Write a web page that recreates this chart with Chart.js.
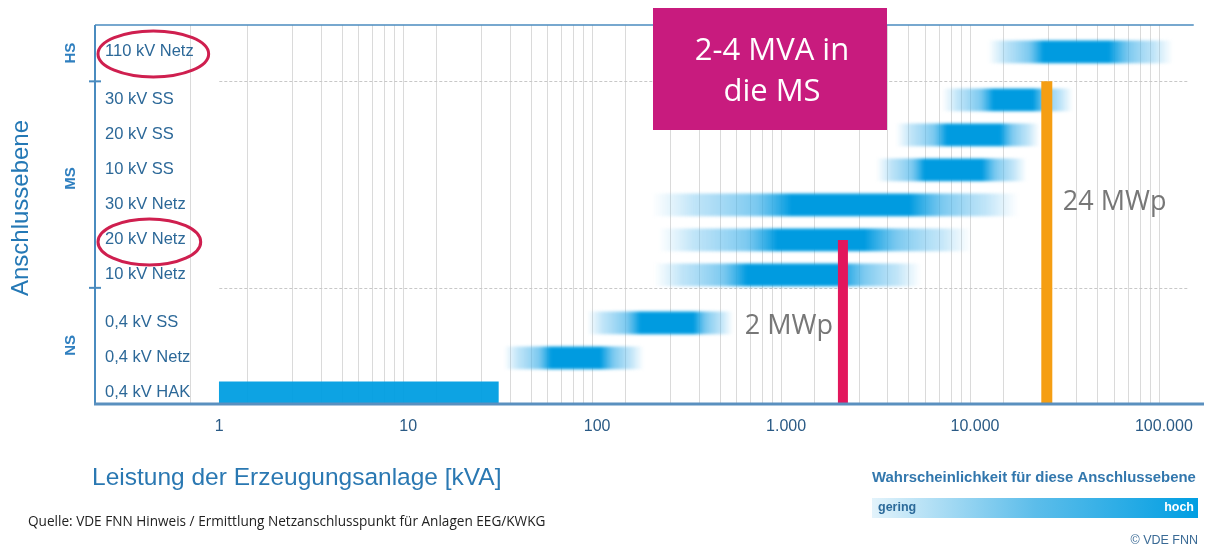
<!DOCTYPE html>
<html>
<head>
<meta charset="utf-8">
<script src="https://cdn.jsdelivr.net/npm/chart.js@4"></script>
<style>
  html, body { margin: 0; padding: 0; background: #fff; }
  #wrap { position: relative; width: 1207px; height: 551px; }
</style>
</head>
<body>
<div id="wrap"><canvas id="chart"></canvas></div>
<script>
// Anschlussebenen, von unten nach oben
const levels = ['0,4 kV HAK', '0,4 kV Netz', '0,4 kV SS', '10 kV Netz', '20 kV Netz', '30 kV Netz', '10 kV SS', '20 kV SS', '30 kV SS', '110 kV Netz'];
const levelGroups = ['NS', 'NS', 'NS', 'MS', 'MS', 'MS', 'MS', 'MS', 'MS', 'HS'];
const groupNames = ['NS', 'MS', 'HS'];

// Leistungsbereich je Ebene [kVA]
const rangeFrom = [1, 32, 88, 200, 210, 195, 3000, 3800, 6700, 11700];
const rangeTo = [30, 177, 526, 5200, 9600, 17000, 18800, 22000, 33000, 112000];
// Bereich mit hoher Wahrscheinlichkeit [kVA]
const peakFrom = [1, 57, 169, 620, 900, 1070, 5400, 7100, 12500, 23000];
const peakTo = [30, 104, 324, 1900, 2600, 4500, 10900, 13600, 20300, 51000];

// Grenzen NS/MS und MS/HS in Zeileneinheiten
const groupBounds = [3.0, 8.9];
const xTickValues = [1, 10, 100, 1000, 10000, 100000];

// eingezeichnete Anlagen
const markerLabels = ['2 MWp', '24 MWp'];
const markerValues = [2000, 24000];
const markerColors = ['#e2175c', '#f59e13'];
const markerLabelRows = ['0,4 kV SS', '30 kV Netz'];
const highlighted = ['110 kV Netz', '20 kV Netz'];

const xMin = 0.2225, xMax = 143900;
const yMin = -0.29, yMax = 10.51;

// Zeilenpositionen mit etwas Abstand zwischen den Gruppen
const groupGap = 0.37;
const rowPos = [];
let gap = 0;
levels.forEach((l, i) => {
  if (i > 0 && levelGroups[i] !== levelGroups[i - 1]) gap += groupGap;
  rowPos.push(i + gap);
});

const isSolid = i => peakFrom[i] === rangeFrom[i] && peakTo[i] === rangeTo[i];
const barData = solid => levels.map((l, i) => ({ x: [rangeFrom[i], rangeTo[i]], y: rowPos[i], i }))
  .filter(d => isSolid(d.i) === solid);

const markerTops = [rowPos[levels.indexOf('20 kV Netz')], groupBounds[1]];

const fmt = v => String(v).replace(/\B(?=(\d{3})+(?!\d))/g, '.');
const sans = "'Liberation Sans', Arial, sans-serif";
const soft = "'Open Sans', sans-serif";

function barFill(c) {
  const chart = c.chart;
  const xs = chart.scales.x;
  if (!chart.chartArea || !xs || !c.raw) return '#49b4e8';
  const i = c.raw.i;
  const a = xs.getPixelForValue(rangeFrom[i]), b = xs.getPixelForValue(rangeTo[i]);
  const p1 = xs.getPixelForValue(peakFrom[i]), p2 = xs.getPixelForValue(peakTo[i]);
  const w = b - a;
  const t = px => Math.min(1, Math.max(0, (px - a) / w));
  const g = chart.ctx.createLinearGradient(a, 0, b, 0);
  g.addColorStop(0, 'rgba(120,200,240,0)');
  g.addColorStop(t(a + (p1 - a) * 0.3), 'rgba(105,192,238,0.42)');
  g.addColorStop(t(a + (p1 - a) * 0.75), 'rgba(60,175,232,0.68)');
  g.addColorStop(t(p1), 'rgba(0,155,224,1)');
  g.addColorStop(t(p2), 'rgba(0,155,224,1)');
  g.addColorStop(t(p2 + (b - p2) * 0.3), 'rgba(60,175,232,0.68)');
  g.addColorStop(t(p2 + (b - p2) * 0.7), 'rgba(105,192,238,0.42)');
  g.addColorStop(1, 'rgba(120,200,240,0)');
  return g;
}

const deco = {
  id: 'deco',
  beforeDatasetsDraw(chart) {
    const { ctx, chartArea: a, scales: { x, y } } = chart;
    ctx.save();
    ctx.strokeStyle = '#c8c8c8';
    ctx.lineWidth = 1;
    ctx.setLineDash([3, 2]);
    groupBounds.forEach(v => {
      const py = Math.round(y.getPixelForValue(v)) + 0.5;
      ctx.beginPath();
      ctx.moveTo(x.getPixelForValue(1), py);
      ctx.lineTo(a.right - 5, py);
      ctx.stroke();
    });
    ctx.restore();
  },
  beforeDatasetDraw(chart, args) {
    if (chart.data.datasets[args.index].soft) {
      chart.ctx.save();
      chart.ctx.filter = 'blur(1.8px)';
    }
  },
  afterDatasetDraw(chart, args) {
    if (chart.data.datasets[args.index].soft) chart.ctx.restore();
  },
  afterDraw(chart) {
    const { ctx, chartArea: a, scales: { x, y } } = chart;
    ctx.save();

    // Rahmen
    ctx.strokeStyle = '#4a8bbf';
    ctx.lineWidth = 2;
    ctx.beginPath(); ctx.moveTo(a.left - 1, a.top); ctx.lineTo(a.left - 1, a.bottom); ctx.stroke();
    ctx.lineWidth = 1.5;
    ctx.beginPath(); ctx.moveTo(a.left - 1, a.top); ctx.lineTo(a.right, a.top); ctx.stroke();
    ctx.lineWidth = 3;
    ctx.strokeStyle = '#5a90bf';
    ctx.beginPath(); ctx.moveTo(a.left - 2, a.bottom + 1); ctx.lineTo(chart.width - 3, a.bottom + 1); ctx.stroke();
    ctx.lineWidth = 2;
    ctx.strokeStyle = '#4a8bbf';
    groupBounds.forEach(v => {
      const py = y.getPixelForValue(v);
      ctx.beginPath(); ctx.moveTo(a.left - 7, py); ctx.lineTo(a.left + 5, py); ctx.stroke();
    });

    // Gruppen HS / MS / NS
    const lows = [yMin, ...groupBounds], highs = [...groupBounds, yMax];
    ctx.fillStyle = '#2f7fbf';
    ctx.font = 'bold 15px ' + sans;
    ctx.textAlign = 'center';
    ctx.textBaseline = 'middle';
    groupNames.forEach((g, k) => {
      const cy = (y.getPixelForValue(lows[k]) + y.getPixelForValue(highs[k])) / 2 - (g === 'MS' ? 6 : 0);
      ctx.save(); ctx.translate(71, cy); ctx.rotate(-Math.PI / 2); ctx.fillText(g, 0, 0); ctx.restore();
    });
    ctx.fillStyle = '#2478b5';
    ctx.font = '24px ' + sans;
    ctx.save(); ctx.translate(21, (a.top + a.bottom) / 2 - 6); ctx.rotate(-Math.PI / 2); ctx.fillText('Anschlussebene', 0, 0); ctx.restore();

    // rote Ellipsen um markierte Ebenen
    ctx.font = '16.5px ' + sans;
    ctx.strokeStyle = '#cf1f4f';
    ctx.lineWidth = 3;
    highlighted.forEach(name => {
      const w = ctx.measureText(name).width;
      const cy = y.getPixelForValue(rowPos[levels.indexOf(name)]) + 2;
      ctx.beginPath();
      ctx.ellipse(a.left + 9 + w / 2 + 4, cy, w / 2 + 11, 23, 0, 0, Math.PI * 2);
      ctx.stroke();
    });

    // Beschriftung der Anlagen
    ctx.fillStyle = '#777';
    ctx.font = '27px ' + soft;
    markerLabels.forEach((t, k) => {
      const px = x.getPixelForValue(markerValues[k]);
      const py = y.getPixelForValue(rowPos[levels.indexOf(markerLabelRows[k])]);
      ctx.textAlign = k === 0 ? 'right' : 'left';
      ctx.fillText(t, k === 0 ? px - 10 : px + 16, k === 0 ? py + 3 : py - 3);
    });

    // Kasten
    ctx.fillStyle = '#c81b7e';
    ctx.fillRect(653, 8, 234, 122);
    ctx.fillStyle = '#fff';
    ctx.font = '31px ' + soft;
    ctx.textAlign = 'center';
    ctx.fillText('2-4 MVA in', 772, 51);
    ctx.fillText('die MS', 772, 92);

    // Achsentitel
    ctx.fillStyle = '#2a78b2';
    ctx.font = '24.5px ' + sans;
    ctx.textAlign = 'left';
    ctx.fillText('Leistung der Erzeugungsanlage [kVA]', 92, 478);

    // Quelle
    ctx.fillStyle = '#222';
    ctx.font = '13.6px ' + soft;
    ctx.fillText('Quelle: VDE FNN Hinweis / Ermittlung Netzanschlusspunkt für Anlagen EEG/KWKG', 28, 522);

    // Legende
    ctx.fillStyle = '#3277ad';
    ctx.font = 'bold 14.9px ' + sans;
    ctx.fillText('Wahrscheinlichkeit für diese Anschlussebene', 872, 478);
    const lg = ctx.createLinearGradient(872, 0, 1198, 0);
    lg.addColorStop(0, '#e3f3fb');
    lg.addColorStop(0.5, '#5cbdea');
    lg.addColorStop(1, '#009ee2');
    ctx.fillStyle = lg;
    ctx.fillRect(872, 498, 326, 20);
    ctx.font = 'bold 12.5px ' + sans;
    ctx.fillStyle = '#2c6a9a';
    ctx.fillText('gering', 878, 508);
    ctx.fillStyle = '#fff';
    ctx.textAlign = 'right';
    ctx.fillText('hoch', 1194, 508);
    ctx.fillStyle = '#3a6a95';
    ctx.font = '12.5px ' + sans;
    ctx.fillText('© VDE FNN', 1198, 541);

    ctx.restore();
  }
};

new Chart(document.getElementById('chart'), {
  type: 'bar',
  data: {
    datasets: [
      {
        type: 'line',
        data: [{ x: markerValues[0], y: yMin }, { x: markerValues[0], y: markerTops[0] }],
        borderColor: markerColors[0], borderWidth: 10, pointRadius: 0, borderCapStyle: 'butt', order: 0
      },
      {
        type: 'line',
        data: [{ x: markerValues[1], y: yMin }, { x: markerValues[1], y: markerTops[1] }],
        borderColor: markerColors[1], borderWidth: 11, pointRadius: 0, borderCapStyle: 'butt', order: 0
      },
      {
        indexAxis: 'y', soft: true, data: barData(false),
        backgroundColor: barFill, barThickness: 22, grouped: false, order: 2
      },
      {
        indexAxis: 'y', data: barData(true),
        backgroundColor: 'rgba(0,158,226,0.95)', barThickness: 22, grouped: false, order: 2
      }
    ]
  },
  options: {
    responsive: true,
    maintainAspectRatio: false,
    animation: false,
    layout: { padding: { top: 25, right: 7, left: 0, bottom: 0 } },
    plugins: { legend: { display: false }, tooltip: { enabled: false } },
    scales: {
      x: {
        type: 'logarithmic',
        min: xMin, max: xMax, bounds: 'data',
        afterBuildTicks: s => {
          const t = [];
          xTickValues.forEach(d => {
            for (let m = 1; m <= 9; m++) if (m * d <= xTickValues[xTickValues.length - 1]) t.push({ value: m * d });
          });
          s.ticks = t;
        },
        afterFit: s => { s.height = 148; },
        ticks: {
          autoSkip: false, maxRotation: 0, minRotation: 0, padding: 14,
          color: '#2a5a85', font: { family: sans, size: 16 },
          callback: v => xTickValues.includes(v) ? fmt(v) : ''
        },
        grid: {
          drawTicks: false,
          color: c => (c.tick && c.tick.value >= 1) ? '#dadada' : 'rgba(0,0,0,0)'
        },
        border: { display: false }
      },
      y: {
        type: 'linear',
        min: yMin, max: yMax, bounds: 'data', offset: false,
        afterBuildTicks: s => { s.ticks = rowPos.map(v => ({ value: v })); },
        afterFit: s => { s.width = 96; },
        ticks: {
          mirror: true, padding: 9,
          color: '#2c6898', font: { family: sans, size: 16.5 },
          callback: (v, i) => levels[i]
        },
        grid: { display: false, drawTicks: false },
        border: { display: false }
      }
    }
  },
  plugins: [deco]
});
</script>
</body>
</html>
